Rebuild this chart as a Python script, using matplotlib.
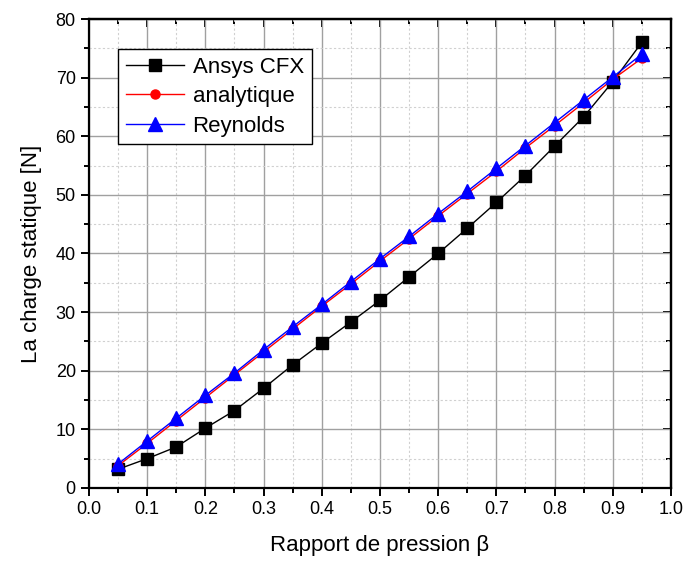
import matplotlib
matplotlib.use("Agg")
import matplotlib.pyplot as plt
from matplotlib.ticker import MultipleLocator

plt.rcParams['font.family'] = ['Liberation Sans', 'DejaVu Sans']

beta = [0.05, 0.1, 0.15, 0.2, 0.25, 0.3, 0.35, 0.4, 0.45, 0.5,
        0.55, 0.6, 0.65, 0.7, 0.75, 0.8, 0.85, 0.9, 0.95]
ansys = [3.2, 5.0, 7.0, 10.2, 13.2, 17.0, 21.0, 24.7, 28.3, 32.0,
         36.0, 40.0, 44.3, 48.7, 53.3, 58.3, 63.3, 69.3, 76.0]
analytique = [3.8, 7.6, 11.5, 15.4, 19.3, 23.2, 27.1, 31.0, 34.8, 38.7,
              42.5, 46.4, 50.2, 54.0, 58.0, 61.8, 65.7, 69.7, 73.3]
reynolds = [4.1, 8.0, 11.9, 15.8, 19.6, 23.6, 27.5, 31.3, 35.2, 39.1,
            42.9, 46.8, 50.6, 54.5, 58.4, 62.3, 66.2, 70.1, 74.0]

fig = plt.figure(figsize=(6.86, 5.64), dpi=100)
ax = fig.add_axes([0.1297, 0.1348, 0.8483, 0.8315])

ax.plot(beta, ansys, color='black', lw=1, marker='s', ms=8.5, label='Ansys CFX', zorder=3)
ax.plot(beta, analytique, color='red', lw=1, marker='o', ms=6.5, label='analytique', zorder=4)
ax.plot(beta, reynolds, color='blue', lw=1, marker='^', ms=9.5, label='Reynolds', zorder=5)

ax.set_xlim(0, 1.0)
ax.set_ylim(0, 80)
ax.xaxis.set_major_locator(MultipleLocator(0.1))
ax.xaxis.set_minor_locator(MultipleLocator(0.05))
ax.yaxis.set_major_locator(MultipleLocator(10))
ax.yaxis.set_minor_locator(MultipleLocator(5))
ax.set_xticklabels([f"{v:.1f}" for v in ax.get_xticks()])

ax.grid(which='major', color='#a0a0a0', lw=1, ls='-')
ax.grid(which='minor', color='#d0d0d0', lw=0.8, ls=(0, (2, 2)))
ax.set_axisbelow(True)

for s in ax.spines.values():
    s.set_linewidth(1.6)

ax.tick_params(which='both', direction='out', bottom=True, left=True, top=False, right=False,
               width=1.4, labelsize=13)
ax.tick_params(which='major', length=6)
ax.tick_params(which='minor', length=3.5)

sec_x = ax.secondary_xaxis('top')
sec_x.xaxis.set_major_locator(MultipleLocator(0.1))
sec_x.xaxis.set_minor_locator(MultipleLocator(0.05))
sec_x.tick_params(which='both', direction='in', width=1.4, labeltop=False)
sec_x.tick_params(which='major', length=6)
sec_x.tick_params(which='minor', length=3.5)
sec_x.spines['top'].set_linewidth(1.6)
sec_y = ax.secondary_yaxis('right')
sec_y.yaxis.set_major_locator(MultipleLocator(10))
sec_y.yaxis.set_minor_locator(MultipleLocator(5))
sec_y.tick_params(which='both', direction='in', width=1.4, labelright=False)
sec_y.tick_params(which='major', length=6)
sec_y.tick_params(which='minor', length=3.5)
sec_y.spines['right'].set_linewidth(1.6)

ax.set_xlabel('Rapport de pression β', fontsize=16, labelpad=12)
ax.set_ylabel('La charge statique [N]', fontsize=16, labelpad=10)

leg = ax.legend(loc='upper left', bbox_to_anchor=(0.05, 0.936), fontsize=16,
                frameon=True, fancybox=False, edgecolor='black', framealpha=1,
                handlelength=2.6, borderpad=0.35, labelspacing=0.38, handletextpad=0.4,
                borderaxespad=0)
leg.get_frame().set_linewidth(1.0)

fig.savefig('out.png', dpi=100)
